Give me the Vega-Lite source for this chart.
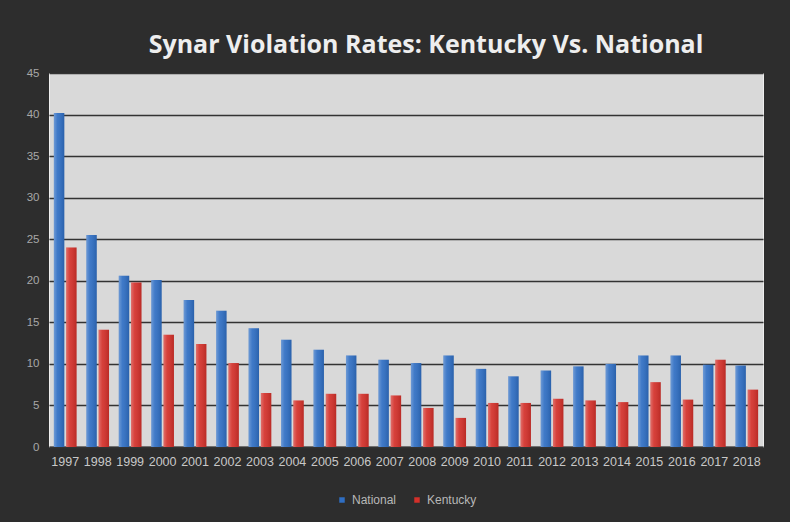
{
  "$schema": "https://vega.github.io/schema/vega-lite/v6.json",
  "width": 714,
  "height": 374,
  "autosize": {"type": "none"},
  "padding": {"left": 49, "top": 73, "right": 27, "bottom": 75},
  "background": "#2d2d2d",
  "title": {
    "text": "Synar Violation Rates: Kentucky Vs. National",
    "color": "#eeeeee",
    "fontSize": 25,
    "font": "Open Sans",
    "fontWeight": "bold",
    "offset": 9,
    "dx": 20
  },
  "data": {
    "values": [
      {"year": "1997", "series": "National", "rate": 40.2},
      {"year": "1997", "series": "Kentucky", "rate": 24.0},
      {"year": "1998", "series": "National", "rate": 25.5},
      {"year": "1998", "series": "Kentucky", "rate": 14.1},
      {"year": "1999", "series": "National", "rate": 20.6},
      {"year": "1999", "series": "Kentucky", "rate": 19.8},
      {"year": "2000", "series": "National", "rate": 20.1},
      {"year": "2000", "series": "Kentucky", "rate": 13.5},
      {"year": "2001", "series": "National", "rate": 17.7},
      {"year": "2001", "series": "Kentucky", "rate": 12.4},
      {"year": "2002", "series": "National", "rate": 16.4},
      {"year": "2002", "series": "Kentucky", "rate": 10.1},
      {"year": "2003", "series": "National", "rate": 14.3},
      {"year": "2003", "series": "Kentucky", "rate": 6.5},
      {"year": "2004", "series": "National", "rate": 12.9},
      {"year": "2004", "series": "Kentucky", "rate": 5.6},
      {"year": "2005", "series": "National", "rate": 11.7},
      {"year": "2005", "series": "Kentucky", "rate": 6.4},
      {"year": "2006", "series": "National", "rate": 11.0},
      {"year": "2006", "series": "Kentucky", "rate": 6.4},
      {"year": "2007", "series": "National", "rate": 10.5},
      {"year": "2007", "series": "Kentucky", "rate": 6.2},
      {"year": "2008", "series": "National", "rate": 10.1},
      {"year": "2008", "series": "Kentucky", "rate": 4.7},
      {"year": "2009", "series": "National", "rate": 11.0},
      {"year": "2009", "series": "Kentucky", "rate": 3.5},
      {"year": "2010", "series": "National", "rate": 9.4},
      {"year": "2010", "series": "Kentucky", "rate": 5.3},
      {"year": "2011", "series": "National", "rate": 8.5},
      {"year": "2011", "series": "Kentucky", "rate": 5.3},
      {"year": "2012", "series": "National", "rate": 9.2},
      {"year": "2012", "series": "Kentucky", "rate": 5.8},
      {"year": "2013", "series": "National", "rate": 9.7},
      {"year": "2013", "series": "Kentucky", "rate": 5.6},
      {"year": "2014", "series": "National", "rate": 10.0},
      {"year": "2014", "series": "Kentucky", "rate": 5.4},
      {"year": "2015", "series": "National", "rate": 11.0},
      {"year": "2015", "series": "Kentucky", "rate": 7.8},
      {"year": "2016", "series": "National", "rate": 11.0},
      {"year": "2016", "series": "Kentucky", "rate": 5.7},
      {"year": "2017", "series": "National", "rate": 9.9},
      {"year": "2017", "series": "Kentucky", "rate": 10.5},
      {"year": "2018", "series": "National", "rate": 9.8},
      {"year": "2018", "series": "Kentucky", "rate": 6.9}
    ]
  },
  "encoding": {
    "x": {
      "field": "year",
      "type": "ordinal",
      "scale": {"paddingInner": 0.3, "paddingOuter": 0.15},
      "axis": {
        "title": null,
        "labelAngle": 0,
        "labelColor": "#c8c8c8",
        "labelFont": "Liberation Sans",
        "labelFontSize": 12.5,
        "labelPadding": 8,
        "labelOverlap": false,
        "ticks": false,
        "domainColor": "#333333",
        "domainWidth": 2,
        "grid": false
      }
    },
    "xOffset": {
      "field": "series",
      "sort": ["National", "Kentucky"],
      "scale": {"paddingInner": 0.15}
    },
    "y": {
      "field": "rate",
      "type": "quantitative",
      "scale": {"domain": [0, 45], "nice": false},
      "axis": {
        "title": null,
        "values": [0, 5, 10, 15, 20, 25, 30, 35, 40, 45],
        "labelColor": "#a8a8a8",
        "labelFont": "Liberation Sans",
        "labelFontSize": 11.5,
        "labelPadding": 10,
        "ticks": false,
        "domain": false,
        "gridColor": "#333333",
        "gridWidth": 1.5,
        "gridOpacity": 1
      }
    }
  },
  "layer": [
    {
      "mark": {"type": "bar"},
      "encoding": {
        "color": {
          "field": "series",
          "type": "nominal",
          "sort": ["National", "Kentucky"],
          "scale": {"range": ["#2f6ec3", "#d3302a"]},
          "legend": {
            "title": null,
            "orient": "bottom",
            "direction": "horizontal",
            "symbolType": "square",
            "symbolSize": 30,
            "labelColor": "#b8b8b8",
            "labelFont": "Liberation Sans",
            "labelFontSize": 12,
            "offset": 26,
            "columnPadding": 14
          }
        }
      }
    },
    {
      "mark": {
        "type": "bar",
        "fill": {
          "gradient": "linear",
          "x1": 0, "y1": 0, "x2": 1, "y2": 0,
          "stops": [
            {"offset": 0, "color": "rgba(255,255,255,0.30)"},
            {"offset": 0.35, "color": "rgba(255,255,255,0.08)"},
            {"offset": 1, "color": "rgba(0,0,0,0.12)"}
          ]
        }
      }
    }
  ],
  "config": {
    "view": {"fill": "#d9d9d9", "stroke": "#eeeeee", "strokeWidth": 1},
    "legend": {"layout": {"bottom": {"anchor": "middle"}}}
  }
}
